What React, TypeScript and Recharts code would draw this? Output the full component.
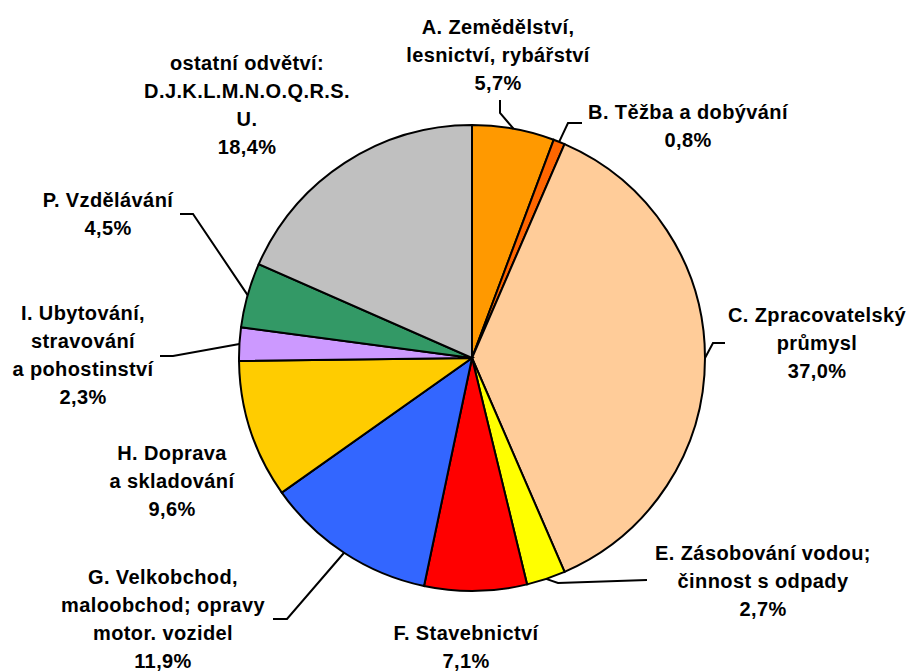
import React from 'react';
import { PieChart, Pie, Cell } from 'recharts';

// odvětví (řádky popisku)
const categories: string[][] = [
  ['A. Zemědělství,', 'lesnictví, rybářství'],
  ['B. Těžba a dobývání'],
  ['C. Zpracovatelský', 'průmysl'],
  ['E. Zásobování vodou;', 'činnost s odpady'],
  ['F. Stavebnictví'],
  ['G. Velkobchod,', 'maloobchod; opravy', 'motor. vozidel'],
  ['H. Doprava', 'a skladování'],
  ['I. Ubytování,', 'stravování', 'a pohostinství'],
  ['P. Vzdělávání'],
  ['ostatní odvětví:', 'D.J.K.L.M.N.O.Q.R.S.', 'U.'],
];
const shares = [5.7, 0.8, 37.0, 2.7, 7.1, 11.9, 9.6, 2.3, 4.5, 18.4];
const colors = ['#FF9900', '#FF6600', '#FFCC99', '#FFFF00', '#FF0000', '#3366FF', '#FFCC00', '#CC99FF', '#339966', '#C0C0C0'];

// label placement relative to pie centre: text [x, y of first line], leader [elbow, end] or null
const labelPos: { tx: number; ty: number; leader: number[][] | null }[] = [
  { tx: 26, ty: -331, leader: [[28, -245], [28, -258]] },
  { tx: 216, ty: -246, leader: [[96, -235], [110, -235]] },
  { tx: 345, ty: -43, leader: [[241, -15], [253, -15]] },
  { tx: 291, ty: 195, leader: [[86, 225], [175, 222]] },
  { tx: -6, ty: 275, leader: null },
  { tx: -309, ty: 219, leader: [[-185, 261], [-199, 261]] },
  { tx: -300, ty: 95, leader: null },
  { tx: -389, ty: -45, leader: [[-299, -2], [-312, -2]] },
  { tx: -364, ty: -158, leader: [[-279, -144], [-292, -144]] },
  { tx: -225, ty: -295, leader: null },
];

const data = shares.map((v, i) => ({ name: categories[i].join(' '), value: v }));

const RAD = Math.PI / 180;
const LINE_H = 28;

const renderLabel = (props: any) => {
  const { cx, cy, midAngle, outerRadius, index } = props;
  const pos = labelPos[index];
  const lines = [...categories[index], shares[index].toFixed(1).replace('.', ',') + '%'];
  const sx = cx + outerRadius * Math.cos(-midAngle * RAD);
  const sy = cy + outerRadius * Math.sin(-midAngle * RAD);
  return (
    <g>
      {pos.leader && (
        <polyline
          points={[[sx - cx, sy - cy], ...pos.leader].map(([x, y]) => `${cx + x},${cy + y}`).join(' ')}
          fill="none"
          stroke="#000"
          strokeWidth={2}
        />
      )}
      <text
        x={cx + pos.tx}
        y={cy + pos.ty + 7}
        textAnchor="middle"
        fontFamily="'Liberation Sans', Arial, sans-serif"
        fontWeight="bold"
        fontSize={20}
        letterSpacing={0.4}
        fill="#000"
      >
        {lines.map((l, i) => (
          <tspan key={i} x={cx + pos.tx} dy={i === 0 ? 0 : LINE_H}>{l}</tspan>
        ))}
      </text>
    </g>
  );
};

export default function App() {
  return (
    <div style={{ position: 'absolute', left: 0, top: 0, width: 913, height: 671, background: '#fff' }}>
      <PieChart width={913} height={671} margin={{ top: 0, right: 0, bottom: 0, left: 0 }}>
        <Pie
          data={data}
          dataKey="value"
          nameKey="name"
          cx={472}
          cy={358}
          outerRadius={233}
          startAngle={90}
          endAngle={-270}
          stroke="#000"
          strokeWidth={2}
          label={renderLabel}
          labelLine={false}
          isAnimationActive={false}
        >
          {data.map((d, i) => (
            <Cell key={d.name} fill={colors[i]} />
          ))}
        </Pie>
      </PieChart>
    </div>
  );
}
